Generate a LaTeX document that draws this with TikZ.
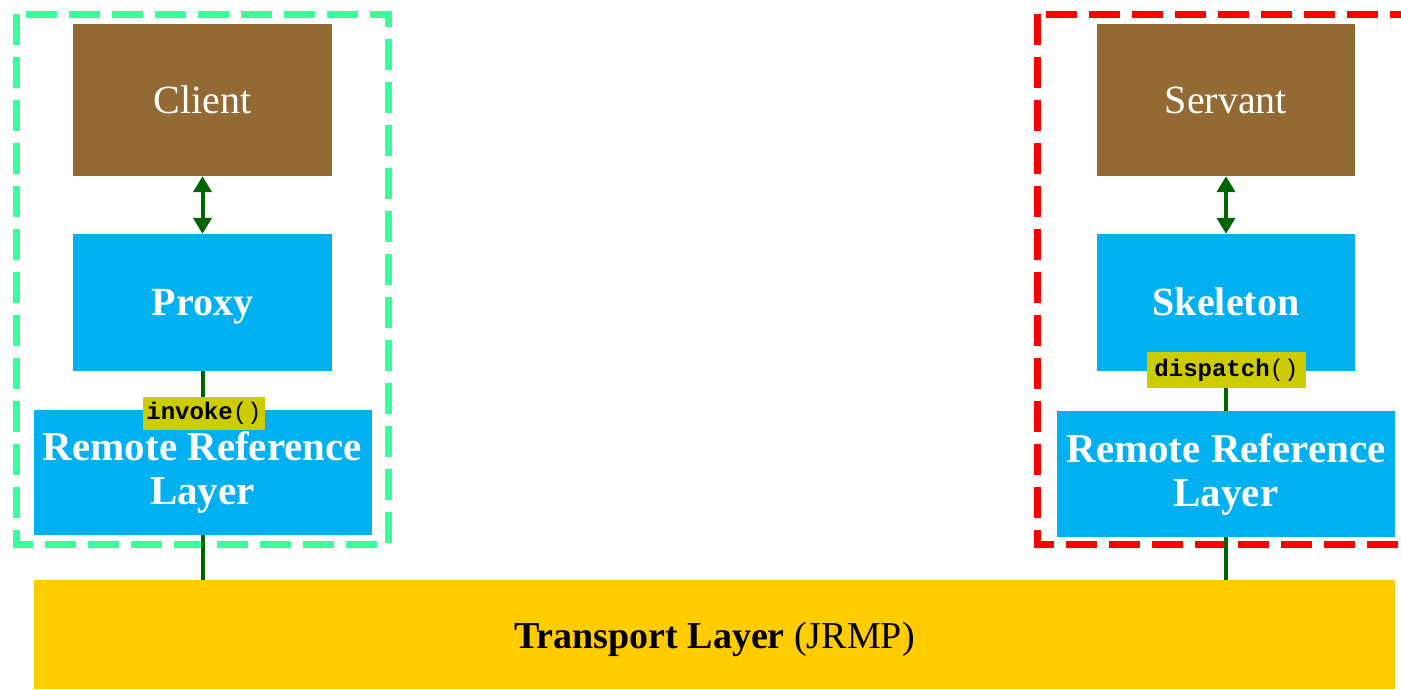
\documentclass[tikz,border=0pt]{standalone}
\usepackage{fontspec}
\setmainfont{Liberation Serif}
\setmonofont{Liberation Mono}
\usetikzlibrary{arrows.meta}
\definecolor{brownbox}{RGB}{147,106,52}
\definecolor{bluebox}{RGB}{0,176,240}
\definecolor{yellowbox}{RGB}{255,204,0}
\definecolor{labelbg}{RGB}{204,204,0}
\definecolor{greendash}{RGB}{56,255,153}
\definecolor{reddash}{RGB}{255,0,0}
\definecolor{darkgreen}{RGB}{0,100,0}
\tikzset{
  brownnode/.style={rectangle, fill=brownbox, text=white, inner sep=0pt,
    minimum width=259pt, minimum height=152pt, font=\fontsize{40}{46}\selectfont,
    text height=36pt, text depth=9.6pt},
  bluenode/.style={rectangle, fill=bluebox, text=white, inner sep=0pt,
    font=\fontsize{40}{46}\selectfont\bfseries, align=center},
  singleline/.style={text height=36pt, text depth=9.6pt},
  rrlnode/.style={bluenode, minimum width=338pt,
    font=\fontsize{41}{44}\selectfont\bfseries},
  labelnode/.style={rectangle, fill=labelbg, text=black, inner sep=0pt,
    font=\fontsize{24}{28}\selectfont\ttfamily},
  link/.style={draw=darkgreen, line width=4pt},
  biarrow/.style={draw=darkgreen, line width=4pt, {Triangle[width=18pt,length=16pt]}-{Triangle[width=18pt,length=16pt]}},
  groupbox/.style={line width=7pt, dash pattern=on 31pt off 12pt}
}
\begin{document}
\begin{tikzpicture}[x=1pt,y=-1pt]
\useasboundingbox (0,0) rectangle (1401,689);
\clip (0,0) rectangle (1401,689);
% group frames
\draw[groupbox, draw=greendash] (16,14) rectangle (388,544);
\draw[groupbox, draw=reddash] (1037,14) rectangle (1430,544);
% transport layer
\node[rectangle, fill=yellowbox, inner sep=0pt, minimum width=1361pt, minimum height=109pt,
  font=\fontsize{38}{44}\selectfont, text height=36pt, text depth=9pt] (transport) at (714.5,634.5) {\textbf{Transport Layer} (JRMP)};
% client side
\node[brownnode] (client) at (202.5,100) {Client};
\node[bluenode, singleline, minimum width=259pt, minimum height=137pt] (proxy) at (202.5,302.5) {Proxy};
\node[rrlnode, minimum height=125pt] (rrlL) at (202.5,472.5) {Remote Reference\\Layer};
% server side
\node[brownnode, minimum width=258pt] (servant) at (1226,100) {Servant};
\node[bluenode, singleline, minimum width=258pt, minimum height=137pt] (skeleton) at (1226,302.5) {Skeleton};
\node[rrlnode, minimum height=126pt] (rrlR) at (1226,474) {Remote Reference\\Layer};
% connectors
\draw[biarrow] (client.south) -- (proxy.north);
\draw[biarrow] (servant.south) -- (skeleton.north);
\draw[link] (proxy.south) -- (rrlL.north);
\draw[link] (rrlL.south) -- (transport.north -| rrlL.south);
\draw[link] (skeleton.south) -- (rrlR.north);
\draw[link] (rrlR.south) -- (transport.north -| rrlR.south);
% labels
\node[labelnode, minimum width=122pt, minimum height=33pt] (invoke) at (204,413.5) {\textbf{invoke}()};
\node[labelnode, minimum width=159pt, minimum height=36pt] (dispatch) at (1226.5,370) {\textbf{dispatch}()};
\end{tikzpicture}
\end{document}
